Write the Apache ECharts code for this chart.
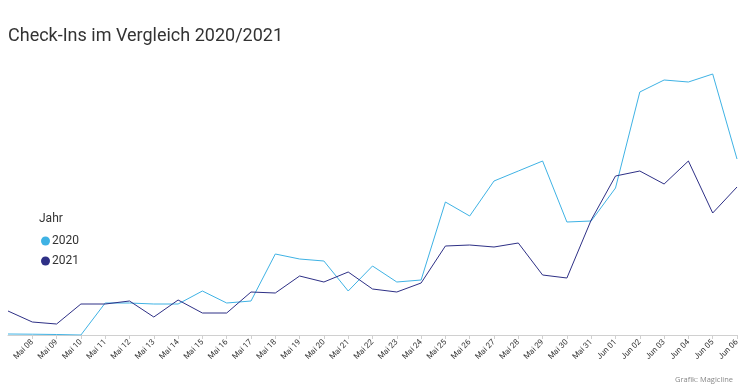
<!DOCTYPE html>
<html><head><meta charset="utf-8">
<script src="https://cdn.jsdelivr.net/npm/echarts@6/dist/echarts.min.js"></script>
<style>html,body{margin:0;padding:0;background:#fff}#c{width:748px;height:390px}</style>
</head><body><div id="c"></div>
<script>
const categories = ["Mai 07","Mai 08","Mai 09","Mai 10","Mai 11","Mai 12","Mai 13","Mai 14","Mai 15","Mai 16","Mai 17","Mai 18","Mai 19","Mai 20","Mai 21","Mai 22","Mai 23","Mai 24","Mai 25","Mai 26","Mai 27","Mai 28","Mai 29","Mai 30","Mai 31","Jun 01","Jun 02","Jun 03","Jun 04","Jun 05","Jun 06"];
const values2020 = [1,0.8,0.5,0,32,32,31,31,44,32,34,81,76,74,44,69,53,55,133,119,154,164,174,113,114,147,243,255,253,261,176];
const values2021 = [24,13,11,31,31,34,18,35,22,22,43,42,59,53,63,46,43,52,89,90,88,92,60,57,115,159,164,151,174,122,148];
const seriesNames = ["2020","2021"];
const colors = ["#3fb2e4","#2e3086"];

const chart = echarts.init(document.getElementById('c'), null, {renderer:'canvas'});
chart.setOption({
  animation:false,
  backgroundColor:'#fff',
  title:[
    {text:'Check-Ins im Vergleich 2020/2021', left:3, top:22, textStyle:{fontFamily:'Roboto', fontWeight:'normal', fontSize:18, color:'#333'}},
    {text:'Jahr', left:34, top:208, textStyle:{fontFamily:'Roboto', fontWeight:'normal', fontSize:12, color:'#333'}},
    {text:'Grafik: Magicline', right:10, top:371, textStyle:{fontFamily:'Open Sans', fontWeight:'normal', fontSize:7.5, color:'#888'}}
  ],
  legend:{
    orient:'vertical', left:36, top:230, icon:'circle', itemWidth:9, itemHeight:9, itemGap:8,
    textStyle:{fontFamily:'Roboto', fontSize:12, color:'#333', padding:[0,0,0,-3]},
    data:seriesNames
  },
  grid:{left:8, right:11, top:65, bottom:55, containLabel:false},
  xAxis:{
    type:'category', boundaryGap:false, data:categories,
    axisLine:{lineStyle:{color:'#d0d0d0', width:1}},
    axisTick:{show:true, alignWithLabel:true, interval:(i)=>i>0, length:4, lineStyle:{color:'#d0d0d0'}},
    axisLabel:{interval:(i)=>i>0, rotate:45, fontFamily:'Roboto', fontSize:8, color:'#333', margin:6}
  },
  yAxis:{type:'value', min:0, max:270, show:false, splitLine:{show:false}},
  series:[
    {name:seriesNames[0], type:'line', data:values2020, symbol:'none', lineStyle:{color:colors[0], width:1}, itemStyle:{color:colors[0]}},
    {name:seriesNames[1], type:'line', data:values2021, symbol:'none', lineStyle:{color:colors[1], width:1}, itemStyle:{color:colors[1]}}
  ]
});
</script></body></html>
